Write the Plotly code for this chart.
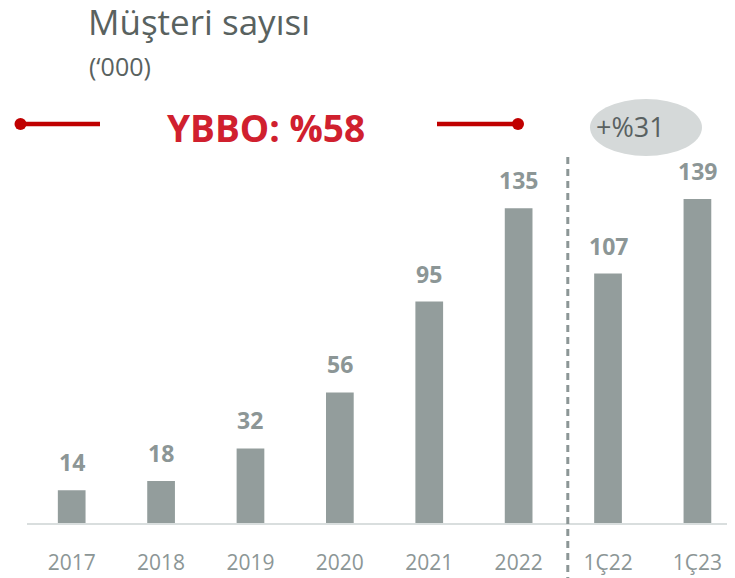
import plotly.graph_objects as go

# data
categories = ["2017", "2018", "2019", "2020", "2021", "2022", "1Ç22", "1Ç23"]
customers = [14, 18, 32, 56, 95, 135, 107, 139]
cagr_label = "YBBO: %58"
growth_label = "+%31"

# the page body has an 8px margin, so figure pixels = page pixels - 8
OFF = 8
W, H = 735, 578
L, R, T, B = 27 - OFF, 0, 150 - OFF, 55 + OFF
pw, ph = W - L - R, H - T - B


def px_x(x):
    # page pixel -> paper x
    return (x - OFF - L) / pw


def px_y(y):
    # page pixel -> paper y
    return (H - B - (y - OFF)) / ph


bar_color = "#939d9c"
label_color = "#8c9696"
red = "#c00000"

fig = go.Figure()
fig.add_trace(go.Bar(
    x=categories,
    y=customers,
    width=0.31,
    marker=dict(color=bar_color, line=dict(width=0)),
    hoverinfo="skip",
))

# value labels above bars
for i, v in enumerate(customers):
    fig.add_annotation(
        x=i, y=v, text=f"<b>{v}</b>", showarrow=False,
        xanchor="center", yanchor="bottom", yshift=10,
        font=dict(family="Open Sans", size=23, color=label_color),
    )

# titles
fig.add_annotation(
    x=px_x(86), y=px_y(21), xref="paper", yref="paper",
    text="Müşteri sayısı", showarrow=False, xanchor="left", yanchor="middle",
    font=dict(family="Open Sans", size=35, color="#59625f"),
)
fig.add_annotation(
    x=px_x(87), y=px_y(66), xref="paper", yref="paper",
    text="(‘000)", showarrow=False, xanchor="left", yanchor="middle",
    font=dict(family="Open Sans", size=25, color="#59625f"),
)

# CAGR bracket
fig.add_annotation(
    x=px_x(266), y=px_y(128), xref="paper", yref="paper",
    text=f"<b>{cagr_label}</b>", showarrow=False,
    xanchor="center", yanchor="middle",
    font=dict(family="Open Sans", size=37, color="#d0202e"),
)
for x0, x1 in [(20, 100), (437, 518)]:
    fig.add_shape(type="line", xref="paper", yref="paper",
                  x0=px_x(x0), x1=px_x(x1), y0=px_y(124), y1=px_y(124),
                  line=dict(color=red, width=4.5))
for xc in [20.5, 518]:
    fig.add_shape(type="circle", xref="paper", yref="paper",
                  x0=px_x(xc - 6), x1=px_x(xc + 6),
                  y0=px_y(124 + 6), y1=px_y(124 - 6),
                  fillcolor=red, line=dict(width=0))

# growth bubble
fig.add_shape(type="circle", xref="paper", yref="paper",
              x0=px_x(590), x1=px_x(702), y0=px_y(156), y1=px_y(99),
              fillcolor="#d5d9d9", line=dict(width=0), layer="below")
fig.add_annotation(
    x=px_x(630), y=px_y(127), xref="paper", yref="paper",
    text=growth_label, showarrow=False,
    xanchor="center", yanchor="middle",
    font=dict(family="Open Sans", size=27, color="#596161"),
)

# separator between annual and quarterly
fig.add_shape(type="line", xref="x", yref="paper",
              x0=5.55, x1=5.55, y0=px_y(157), y1=px_y(590),
              line=dict(color="#8c9696", width=3, dash="7px,5px"))

fig.update_layout(
    width=W, height=H,
    margin=dict(l=L, r=R, t=T, b=B),
    plot_bgcolor="white", paper_bgcolor="white",
    showlegend=False,
    xaxis=dict(
        type="category",
        range=[-0.5, 7.51], showgrid=False, zeroline=False,
        showline=True, linecolor="#d9dede", linewidth=2,
        ticks="", ticklabelstandoff=20,
        tickfont=dict(family="Open Sans", size=21, color="#8c9696"),
    ),
    yaxis=dict(range=[0, 160], visible=False),
)

fig.write_html("out.html")
